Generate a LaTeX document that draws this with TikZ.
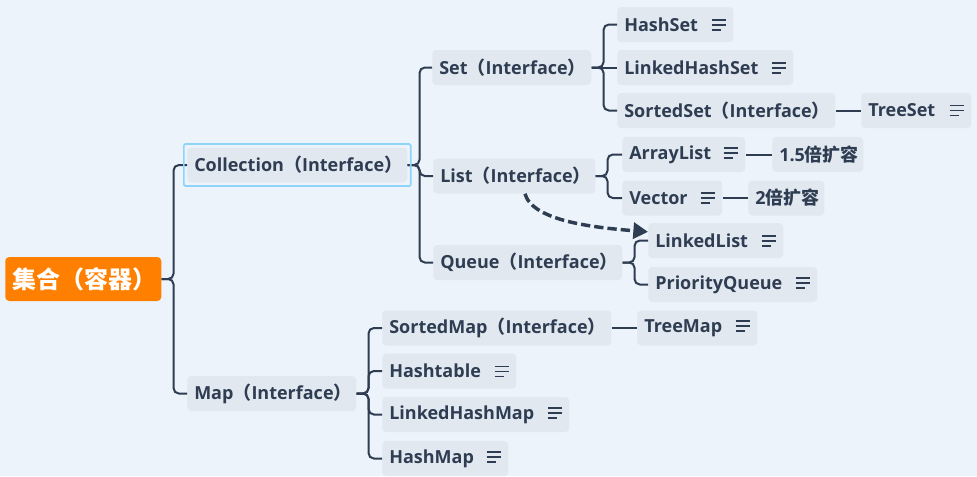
\documentclass[tikz,border=0pt]{standalone}
\usepackage{fontspec}
\setmainfont{Open Sans}
\newfontfamily\cjk{Noto Sans CJK SC}
\usetikzlibrary{arrows.meta,fit}

\definecolor{bgblue}{RGB}{236,243,250}
\definecolor{topicfill}{RGB}{225,232,240}
\definecolor{ink}{RGB}{47,61,82}
\definecolor{rootorange}{RGB}{255,128,0}
\definecolor{selblue}{RGB}{142,212,248}

\newcommand{\intf}{{\cjk （}Interface{\cjk ）}}
\newcommand{\noteicon}{\hfill\raisebox{0.5pt}{\vbox{\hrule width 11pt height 1.1pt\vskip 2.6pt\hrule width 11pt height 1.1pt\vskip 2.6pt\hrule width 7pt height 1.1pt}}\hspace{1.5pt}}

\begin{document}
\begin{tikzpicture}[
    x=0.75pt, y=-0.75pt,
    >=Latex,
    topic/.style={fill=topicfill, text=ink, rounded corners=3pt, anchor=west,
        minimum height=26.25pt, inner xsep=5.25pt, inner ysep=0pt, align=left,
        font=\bfseries\fontsize{13.5}{16}\selectfont},
    rootbox/.style={topic, fill=rootorange, text=white, minimum height=33pt,
        font=\bfseries\fontsize{18}{21}\selectfont},
    wd/.style={text width=#1*0.75pt-10.5pt},
    selbox/.style={draw=selblue, line width=1.2pt, inner sep=2.4pt, rounded corners=1pt},
    branch/.style={draw=ink, line width=1.5pt, rounded corners=4pt},
    link/.style={draw=ink, line width=2.6pt, dash pattern=on 7pt off 3pt,
        -{Triangle[length=11pt,width=12pt]}}
]
    \path[use as bounding box, fill=bgblue] (0,0) rectangle (977,476);

    % level 0 and 1
    \node[rootbox, wd=156] (root) at (5,279) {{\cjk 集合（容器）}};
    \node[topic, wd=220] (coll) at (187,165) {Collection\intf};
    \node[topic, wd=169] (map) at (187,393.5) {Map\intf};

    % collection branch
    \node[topic, wd=159] (set) at (432,67.5) {Set\intf};
    \node[topic, wd=162] (list) at (433,176) {List\intf};
    \node[topic, wd=189] (queue) at (433,262.5) {Queue\intf};
    \node[topic, wd=116] (hashset) at (617,24.5) {HashSet\noteicon};
    \node[topic, wd=176] (lhset) at (617,67.5) {LinkedHashSet\noteicon};
    \node[topic, wd=218] (sortedset) at (617,110.5) {SortedSet\intf};
    \node[topic, wd=110] (treeset) at (861,110.5) {TreeSet\noteicon};
    \node[topic, wd=123] (arraylist) at (622,154.5) {ArrayList\noteicon};
    \node[topic, wd=91] (grow15) at (772,154.5) {1.5{\cjk 倍扩容}};
    \node[topic, wd=100] (vector) at (622,198) {Vector\noteicon};
    \node[topic, wd=76] (grow2) at (748,198) {2{\cjk 倍扩容}};
    \node[topic, wd=135] (linkedlist) at (648,240.5) {LinkedList\noteicon};
    \node[topic, wd=169] (pqueue) at (648,284.5) {PriorityQueue\noteicon};

    % map branch
    \node[topic, wd=229] (sortedmap) at (382,328) {SortedMap\intf};
    \node[topic, wd=120] (treemap) at (637,328) {TreeMap\noteicon};
    \node[topic, wd=134] (hashtable) at (382,371) {Hashtable\noteicon};
    \node[topic, wd=187] (lhmap) at (382,414.5) {LinkedHashMap\noteicon};
    \node[topic, wd=126] (hashmap) at (382,458.5) {HashMap\noteicon};

    % elbow branches
    \foreach \p/\c in {root/coll, root/map, coll/set, coll/list, coll/queue,
        set/hashset, set/sortedset, list/arraylist, list/vector,
        queue/linkedlist, queue/pqueue,
        map/sortedmap, map/hashtable, map/lhmap, map/hashmap}
        \draw[branch] (\p.east) -- ++(12,0) |- (\c.west);
    % straight branches
    \foreach \p/\c in {set/lhset, sortedset/treeset, arraylist/grow15,
        vector/grow2, sortedmap/treemap}
        \draw[branch] (\p.east) -- (\c.west);

    \node[selbox, fit=(coll)] (collsel) {};

    \draw[link] ([xshift=8pt]list.south) .. controls +(8,28) and +(-50,-4) .. ([yshift=6.5pt]linkedlist.west);
\end{tikzpicture}
\end{document}
